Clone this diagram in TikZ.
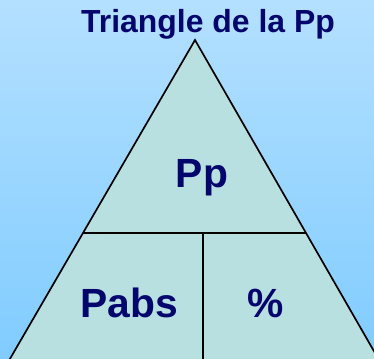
\documentclass[tikz,border=0pt]{standalone}
\usepackage{fontspec}
\setmainfont{Liberation Sans}
\usepackage{xcolor}
\usetikzlibrary{calc}

\definecolor{skytop}{HTML}{B4E0FF}
\definecolor{skybottom}{HTML}{80CCFF}
\definecolor{trifill}{HTML}{B8E0E0}
\definecolor{labelblue}{HTML}{05056E}

\begin{document}
\begin{tikzpicture}[
  x=0.025cm, y=-0.025cm,
  edge/.style={draw=black, line width=1.2pt},
  title_text/.style={font=\bfseries\fontsize{22.7}{27}\selectfont, text=labelblue, anchor=base, inner sep=0pt},
  cell_text/.style={font=\bfseries\fontsize{29}{34}\selectfont, text=labelblue, anchor=base, inner sep=0pt}
]

  % Background
  \shade[top color=skytop, bottom color=skybottom] (0,0) rectangle (374,359);
  \useasboundingbox (0,0) rectangle (374,359);
  \clip (0,0) rectangle (374,359);

  % Triangle corners (base lies below the picture)
  \coordinate (apex) at (195,40);
  \coordinate (midL) at (83,233);
  \coordinate (midR) at (306,233);
  \coordinate (baseL) at ($(apex)!1.75!(midL)$);
  \coordinate (baseR) at ($(apex)!1.75!(midR)$);
  \coordinate (splitT) at (203,233);
  \coordinate (splitB) at (203,400);

  \fill[trifill] (apex) -- (baseL) -- (baseR) -- cycle;
  \draw[edge, line join=miter] (baseL) -- (apex) -- (baseR);
  \draw[edge] (midL) -- (midR);
  \draw[edge] (splitT) -- (splitB);

  % Labels
  \node (title) [title_text] at (208,33) {Triangle de la Pp};
  \node (pp) [cell_text] at (202,188) {Pp};
  \node (pabs) [cell_text] at (129,317) {Pabs};
  \node (pct) [cell_text] at (266,318) {\%};

\end{tikzpicture}
\end{document}
